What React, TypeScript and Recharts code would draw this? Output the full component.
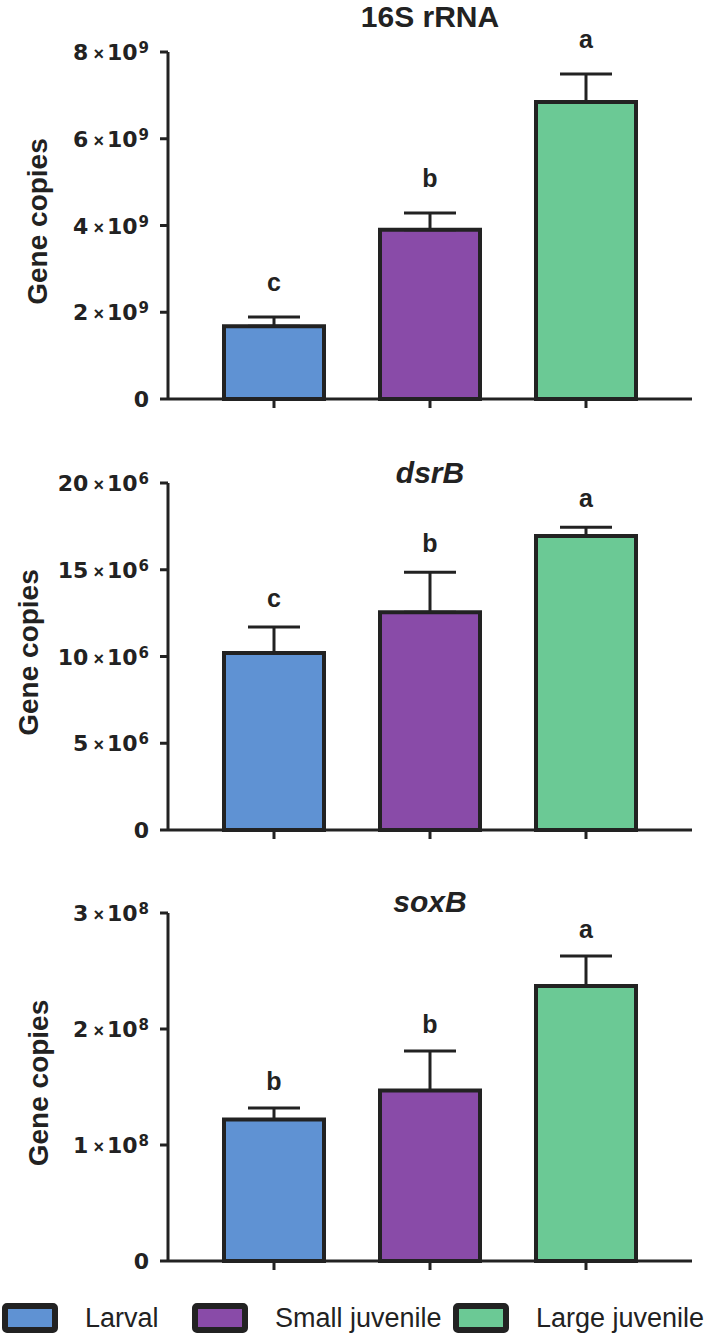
import { BarChart, Bar, XAxis, YAxis, Cell, ErrorBar, LabelList } from "recharts";

const groups = ["Larval", "Small juvenile", "Large juvenile"];
const colors = ["#5F92D3", "#894BA8", "#6BC995"];

// 16S rRNA
const rrnaMean = [1.68e9, 3.9e9, 6.85e9];
const rrnaSem = [0.21e9, 0.39e9, 0.64e9];
const rrnaLetters = ["c", "b", "a"];
const rrnaTicks = [0, 2e9, 4e9, 6e9, 8e9];

// dsrB
const dsrbMean = [10.2e6, 12.55e6, 16.95e6];
const dsrbSem = [1.5e6, 2.3e6, 0.5e6];
const dsrbLetters = ["c", "b", "a"];
const dsrbTicks = [0, 5e6, 10e6, 15e6, 20e6];

// soxB
const soxbMean = [1.22e8, 1.47e8, 2.37e8];
const soxbSem = [0.1e8, 0.34e8, 0.26e8];
const soxbLetters = ["b", "b", "a"];
const soxbTicks = [0, 1e8, 2e8, 3e8];

const INK = "#222";
const FONT = "'Liberation Sans', Arial, Helvetica, sans-serif";
const TICK_FONT = "'DejaVu Sans', Verdana, sans-serif";

const PowerTick = (props: any) => {
  const { x, y, payload, exp } = props;
  const v = payload.value;
  if (v === 0) {
    return (
      <text x={x} y={y} dy={8} textAnchor="end" fontFamily={TICK_FONT} fontWeight={700} fontSize={22} fill={INK}>
        0
      </text>
    );
  }
  const m = Math.round(v / Math.pow(10, exp));
  return (
    <text x={x} y={y} dy={8} textAnchor="end" fontFamily={TICK_FONT} fontWeight={700} fontSize={22} fill={INK}>
      {m}
      <tspan fontSize={18} dx={5} fontFamily={FONT}>×</tspan>
      <tspan dx={3}>10</tspan>
      <tspan fontSize={15} dy={-7} dx={1}>{exp}</tspan>
    </text>
  );
};

const sigLabel = (data: any[], gap: number) => (props: any) => {
  const { x, y, width, height, index } = props;
  const d = data[index];
  if (!d) return null;
  const h = Math.abs(Number(height));
  const top = Number(y);
  const errTop = top - (d.err[1] * h) / d.value;
  return (
    <text
      x={Number(x) + Number(width) / 2}
      y={errTop - gap}
      textAnchor="middle"
      fontFamily={FONT}
      fontWeight={700}
      fontSize={25}
      fill={INK}
    >
      {d.sig}
    </text>
  );
};

type PanelProps = {
  title: string;
  italic?: boolean;
  mean: number[];
  sem: number[];
  letters: string[];
  ticks: number[];
  exp: number;
  top: number;
  marginTop: number;
  plotH: number;
  titleY: number;
  labelX: number;
  letterGap: number;
};

const Panel = ({ title, italic, mean, sem, letters, ticks, exp, top, marginTop, plotH, titleY, labelX, letterGap }: PanelProps) => {
  const data = groups.map((g, i) => ({ name: g, value: mean[i], err: [0, sem[i]], sig: letters[i] }));
  const height = marginTop + plotH + 30;
  return (
    <div style={{ position: "absolute", left: 0, top, width: 709, height }}>
      <BarChart
        width={709}
        height={height}
        data={data}
        margin={{ top: marginTop, right: 17, bottom: 0, left: 0 }}
        barSize={100}
      >
        <XAxis
          dataKey="name"
          height={30}
          padding={{ left: 28, right: 28 }}
          axisLine={{ stroke: INK, strokeWidth: 3 }}
          tickLine={{ stroke: INK, strokeWidth: 3 }}
          tickSize={9}
          interval={0}
          tickFormatter={() => ""}
        />
        <YAxis
          width={168}
          domain={[0, ticks[ticks.length - 1]]}
          ticks={ticks}
          interval={0}
          axisLine={{ stroke: INK, strokeWidth: 3 }}
          tickLine={{ stroke: INK, strokeWidth: 3 }}
          tickSize={8}
          tickMargin={11}
          tick={<PowerTick exp={exp} />}
        />
        <Bar dataKey="value" stroke={INK} strokeWidth={4} isAnimationActive={false}>
          {data.map((d, i) => (
            <Cell key={d.name} fill={colors[i]} />
          ))}
          <ErrorBar dataKey="err" direction="y" width={26} stroke={INK} strokeWidth={3} isAnimationActive={false} />
          <LabelList dataKey="sig" content={sigLabel(data, letterGap)} />
        </Bar>
      </BarChart>
      <svg
        width={709}
        height={height}
        style={{ position: "absolute", left: 0, top: 0, pointerEvents: "none" }}
      >
        <text
          x={430}
          y={titleY}
          textAnchor="middle"
          fontFamily={FONT}
          fontWeight={700}
          fontStyle={italic ? "italic" : "normal"}
          fontSize={30}
          fill={INK}
        >
          {title}
        </text>
        <text
          x={labelX}
          y={marginTop + plotH / 2 - 4}
          transform={`rotate(-90 ${labelX} ${marginTop + plotH / 2 - 4})`}
          textAnchor="middle"
          fontFamily={FONT}
          fontWeight={700}
          fontSize={28}
          fill={INK}
        >
          Gene copies
        </text>
      </svg>
    </div>
  );
};

const legendWidths = [190, 261, 256];

const App = () => (
  <div style={{ position: "absolute", left: 0, top: 0, width: 709, height: 1339, background: "#fff", overflow: "hidden" }}>
    <Panel
      title="16S rRNA"
      mean={rrnaMean}
      sem={rrnaSem}
      letters={rrnaLetters}
      ticks={rrnaTicks}
      exp={9}
      top={0}
      marginTop={52}
      plotH={347}
      titleY={27}
      labelX={47}
      letterGap={26}
    />
    <Panel
      title="dsrB"
      italic
      mean={dsrbMean}
      sem={dsrbSem}
      letters={dsrbLetters}
      ticks={dsrbTicks}
      exp={6}
      top={440}
      marginTop={43}
      plotH={347}
      titleY={43}
      labelX={38}
      letterGap={20}
    />
    <Panel
      title="soxB"
      italic
      mean={soxbMean}
      sem={soxbSem}
      letters={soxbLetters}
      ticks={soxbTicks}
      exp={8}
      top={870}
      marginTop={43}
      plotH={348}
      titleY={42}
      labelX={48}
      letterGap={18}
    />
    <div style={{ position: "absolute", left: 2, top: 1303, display: "flex", alignItems: "center", fontFamily: FONT, fontSize: 27, color: INK }}>
      {groups.map((g, i) => (
        <div key={g} style={{ width: legendWidths[i], display: "flex", alignItems: "center" }}>
          <div
            style={{
              width: 44,
              height: 18,
              border: `6px solid ${INK}`,
              borderRadius: 5,
              background: colors[i],
              flex: "none",
            }}
          />
          <span style={{ marginLeft: 27, whiteSpace: "nowrap", lineHeight: "30px" }}>{g}</span>
        </div>
      ))}
    </div>
  </div>
);

export default App;
